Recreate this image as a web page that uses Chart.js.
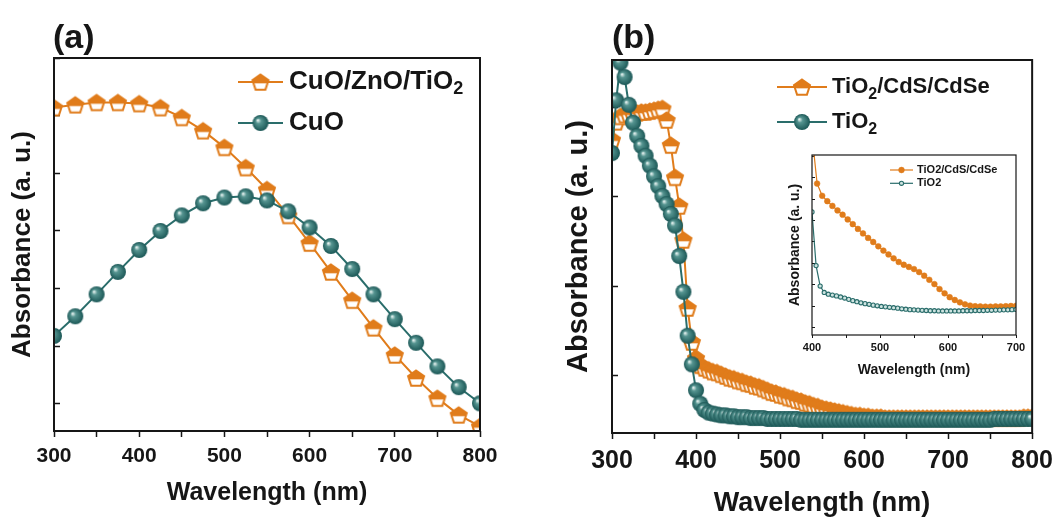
<!DOCTYPE html>
<html>
<head>
<meta charset="utf-8">
<script src="https://cdn.jsdelivr.net/npm/chart.js@4.4.0/dist/chart.umd.min.js"></script>
<style>
  html, body { margin: 0; padding: 0; background: #fff; }
  #wrap { position: relative; width: 1060px; height: 517px; overflow: hidden; }
  #wrap canvas { position: absolute; }
  .tag { position: absolute; font: bold 34px "Liberation Sans", Arial, sans-serif; line-height: 34px; color: #161616; }
</style>
</head>
<body>
<div id="wrap">
  <canvas id="chartA" width="530" height="517" style="left:0;top:0"></canvas>
  <canvas id="chartB" width="530" height="517" style="left:530px;top:0"></canvas>
  <canvas id="chartInset" width="260" height="245" style="left:770px;top:140px"></canvas>
  <div class="tag" style="left:53px;top:19px">(a)</div>
  <div class="tag" style="left:612px;top:19px">(b)</div>
</div>
<script>
// ---- panel (a): CuO vs CuO/ZnO/TiO2 ----
var wlA = [300, 325, 350, 375, 400, 425, 450, 475, 500, 525, 550, 575, 600, 625, 650, 675, 700, 725, 750, 775, 800];
var absCuoZnoTio2 = [5.14, 5.19, 5.23, 5.23, 5.21, 5.14, 4.97, 4.74, 4.45, 4.10, 3.72,
                     3.27, 2.79, 2.29, 1.80, 1.32, 0.85, 0.45, 0.10, -0.19, -0.39];
var absCuo = [1.18, 1.52, 1.90, 2.29, 2.67, 3.00, 3.27, 3.48, 3.58, 3.60, 3.53,
              3.34, 3.06, 2.74, 2.34, 1.90, 1.47, 1.06, 0.65, 0.29, 0.01];

// ---- panel (b): TiO2 vs TiO2/CdS/CdSe, 5 nm steps ----
var wlB = [];
for (var w = 300; w <= 800; w += 5) wlB.push(w);
var absTio2CdsCdse = [
  2.64, 2.84, 2.90, 2.92, 2.93, 2.93, 2.94, 2.95, 2.95, 2.96,
  2.97, 2.98, 2.99, 2.86, 2.58, 2.22, 1.90, 1.52, 0.76, 0.38,
  0.20, 0.12, 0.09, 0.07, 0.05, 0.04, 0.02, 0.00, -0.02, -0.03,
  -0.05, -0.06, -0.08, -0.09, -0.11, -0.12, -0.14, -0.16, -0.18, -0.19,
  -0.21, -0.22, -0.24, -0.25, -0.27, -0.28, -0.30, -0.31, -0.33, -0.34,
  -0.36, -0.37, -0.38, -0.39, -0.40, -0.41, -0.42, -0.43, -0.44, -0.44,
  -0.45, -0.45, -0.46, -0.46, -0.46, -0.47, -0.47, -0.47, -0.47, -0.47,
  -0.47, -0.47, -0.47, -0.47, -0.47, -0.47, -0.47, -0.47, -0.47, -0.47,
  -0.47, -0.47, -0.47, -0.47, -0.47, -0.47, -0.47, -0.47, -0.47, -0.47,
  -0.47, -0.47, -0.47, -0.47, -0.47, -0.47, -0.47, -0.47, -0.46, -0.46,
  -0.46];
var absTio2 = [
  2.49, 3.08, 3.50, 3.34, 3.03, 2.83, 2.68, 2.57, 2.46, 2.35,
  2.23, 2.12, 2.01, 1.92, 1.81, 1.68, 1.34, 0.94, 0.45, 0.13,
  -0.16, -0.31, -0.38, -0.41, -0.42, -0.43, -0.44, -0.44, -0.45, -0.45,
  -0.46, -0.46, -0.46, -0.47, -0.47, -0.47, -0.47, -0.48, -0.48, -0.48,
  -0.48, -0.48, -0.48, -0.48, -0.48, -0.49, -0.49, -0.49, -0.49, -0.49,
  -0.49, -0.49, -0.49, -0.49, -0.49, -0.49, -0.49, -0.49, -0.49, -0.49,
  -0.49, -0.49, -0.49, -0.49, -0.49, -0.49, -0.49, -0.49, -0.49, -0.49,
  -0.49, -0.49, -0.49, -0.49, -0.49, -0.49, -0.49, -0.49, -0.49, -0.49,
  -0.49, -0.49, -0.49, -0.49, -0.49, -0.49, -0.49, -0.49, -0.49, -0.49,
  -0.49, -0.48, -0.48, -0.48, -0.48, -0.48, -0.48, -0.48, -0.48, -0.48,
  -0.48];

// ---- inset of (b): 400-700 nm ----
var wlInsetCds = [];
for (w = 400; w <= 700; w += 7.5) wlInsetCds.push(w);
var insetTio2CdsCdse = [
  9.00, 6.72, 6.15, 5.90, 5.68, 5.47, 5.27, 5.05, 4.83, 4.61,
  4.40, 4.19, 4.00, 3.80, 3.60, 3.42, 3.24, 3.07, 2.94, 2.84,
  2.74, 2.60, 2.43, 2.24, 2.04, 1.81, 1.61, 1.43, 1.30, 1.19,
  1.10, 1.04, 1.01, 1.00, 0.99, 0.99, 1.00, 1.00, 1.01, 1.02,
  1.03];
var wlInsetTio2 = [];
for (w = 400; w <= 700; w += 6) wlInsetTio2.push(w);
var insetTio2 = [
  5.40, 2.90, 1.95, 1.65, 1.57, 1.53, 1.49, 1.44, 1.39, 1.33,
  1.27, 1.22, 1.17, 1.13, 1.10, 1.06, 1.03, 1.00, 0.98, 0.96,
  0.94, 0.92, 0.89, 0.87, 0.85, 0.84, 0.83, 0.82, 0.81, 0.80,
  0.80, 0.79, 0.79, 0.79, 0.79, 0.79, 0.79, 0.80, 0.80, 0.80,
  0.81, 0.81, 0.81, 0.82, 0.82, 0.83, 0.83, 0.84, 0.84, 0.85,
  0.86];

var labelsMain = [300, 400, 500, 600, 700, 800];
var labelsInset = [400, 500, 600, 700];

var ORANGE = '#e07c1b';
var TEAL = '#2a6d6b';
var INK = '#161616';
var FONT = "'Liberation Sans', Arial, Helvetica, sans-serif";

function zip(xs, ys) {
  return xs.map(function (x, i) { return { x: x, y: ys[i] }; });
}

function bold(size, lh) {
  return { family: FONT, size: size, weight: 'bold', lineHeight: lh || 1.2 };
}

// pentagon marker: filled roof, hollow bottom
function pentagon(r) {
  var c = document.createElement('canvas');
  var size = Math.ceil(2 * r + 3);
  c.width = c.height = size;
  var g = c.getContext('2d');
  var cx = size / 2, cy = size / 2 + r * 0.1;
  g.beginPath();
  for (var k = 0; k < 5; k++) {
    var a = -Math.PI / 2 + k * 2 * Math.PI / 5;
    if (k) g.lineTo(cx + r * Math.cos(a), cy + r * Math.sin(a));
    else g.moveTo(cx + r * Math.cos(a), cy + r * Math.sin(a));
  }
  g.closePath();
  g.fillStyle = '#fff';
  g.fill();
  g.save();
  g.clip();
  g.fillStyle = ORANGE;
  g.fillRect(0, 0, size, cy + 0.5);
  g.restore();
  g.lineWidth = 2;
  g.strokeStyle = ORANGE;
  g.stroke();
  return c;
}

// shaded ball marker
function sphere(d) {
  var c = document.createElement('canvas');
  c.width = c.height = d + 2;
  var g = c.getContext('2d');
  var r = d / 2, cx = c.width / 2, cy = c.height / 2;
  var grad = g.createRadialGradient(cx - r * 0.35, cy - r * 0.35, r * 0.05, cx, cy, r);
  grad.addColorStop(0, '#e6f2f0');
  grad.addColorStop(0.3, '#559490');
  grad.addColorStop(1, '#1b5756');
  g.beginPath();
  g.arc(cx, cy, r, 0, 2 * Math.PI);
  g.fillStyle = grad;
  g.fill();
  return c;
}

var framePlugin = {
  id: 'frame',
  afterDatasetsDraw: function (chart, args, o) {
    var a = chart.chartArea, ctx = chart.ctx;
    ctx.save();
    ctx.strokeStyle = INK;
    ctx.lineWidth = o.width;
    ctx.strokeRect(a.left, a.top, a.right - a.left, a.bottom - a.top);
    ctx.restore();
  }
};

// text with unicode subscript digits drawn smaller and lower
function richText(ctx, text, x, y, size, subSize, drop) {
  text.split(/([\u2080-\u2089]+)/).forEach(function (s, i) {
    if (!s) return;
    var sub = i % 2 === 1;
    if (sub) s = s.replace(/[\u2080-\u2089]/g, function (ch) {
      return String.fromCharCode(ch.charCodeAt(0) - 0x2080 + 48);
    });
    ctx.font = 'bold ' + (sub ? subSize : size) + 'px ' + FONT;
    ctx.fillText(s, x, sub ? y + drop : y);
    x += ctx.measureText(s).width;
  });
}

var keyPlugin = {
  id: 'key',
  afterDraw: function (chart, args, o) {
    var ctx = chart.ctx;
    ctx.save();
    chart.data.datasets.forEach(function (ds, i) {
      var y = o.y + i * o.gap, mx = (o.x0 + o.x1) / 2;
      ctx.strokeStyle = ds.borderColor;
      ctx.lineWidth = ds.borderWidth;
      ctx.beginPath();
      ctx.moveTo(o.x0, y);
      ctx.lineTo(o.x1, y);
      ctx.stroke();
      if (ds.pointStyle instanceof HTMLCanvasElement) {
        ctx.drawImage(ds.pointStyle, mx - ds.pointStyle.width / 2, y - ds.pointStyle.height / 2);
      } else {
        ctx.beginPath();
        ctx.arc(mx, y, ds.pointRadius, 0, 2 * Math.PI);
        ctx.fillStyle = ds.pointBackgroundColor;
        ctx.fill();
        ctx.lineWidth = ds.pointBorderWidth;
        ctx.strokeStyle = ds.pointBorderColor;
        ctx.stroke();
      }
      ctx.fillStyle = INK;
      ctx.textBaseline = 'middle';
      ctx.textAlign = 'left';
      richText(ctx, ds.label, o.tx, y, o.size, o.sub, o.drop);
    });
    ctx.restore();
  }
};

function panel(id, s) {
  return new Chart(document.getElementById(id), {
    type: 'line',
    data: { datasets: s.datasets },
    options: {
      responsive: false,
      animation: false,
      events: [],
      layout: { padding: s.padding },
      plugins: {
        legend: { display: false },
        tooltip: { enabled: false },
        frame: { width: s.frame },
        key: s.key
      },
      scales: {
        x: {
          type: 'linear', min: s.xMin, max: s.xMax,
          ticks: {
            stepSize: 50, autoSkip: false, maxRotation: 0,
            font: bold(s.tickSize), color: INK, padding: s.tickPad,
            callback: function (v) { return s.labels.indexOf(v) >= 0 ? String(v) : ''; }
          },
          grid: { drawOnChartArea: false, tickLength: s.tick, tickWidth: s.tickW, tickColor: INK },
          border: { display: false },
          title: { display: true, text: 'Wavelength (nm)', font: bold(s.xTitleSize, s.xTitleLh), color: INK,
                   padding: { top: 0, bottom: s.xTitlePad } },
          afterFit: function (sc) { sc.height = s.xHeight; }
        },
        y: {
          type: 'linear', min: s.yMin, max: s.yMax,
          ticks: { stepSize: 1, includeBounds: false, callback: function () { return ''; } },
          grid: { drawOnChartArea: false, tickLength: -s.tick, tickWidth: s.tickW, tickColor: INK },
          border: { display: false },
          title: { display: true, text: 'Absorbance (a. u.)', font: bold(s.yTitleSize), color: INK,
                   padding: { top: s.yTitlePad, bottom: 0 } },
          afterFit: function (sc) { sc.width = s.yWidth; }
        }
      }
    },
    plugins: [framePlugin, keyPlugin]
  });
}

panel('chartA', {
  datasets: [
    { label: 'CuO/ZnO/TiO\u2082', data: zip(wlA, absCuoZnoTio2), borderColor: ORANGE, borderWidth: 2,
      pointStyle: pentagon(8.4), pointRadius: 8, tension: 0, order: 1 },
    { label: 'CuO', data: zip(wlA, absCuo), borderColor: TEAL, borderWidth: 2,
      pointStyle: sphere(16), pointRadius: 8, tension: 0, order: 0 }
  ],
  padding: { top: 58, right: 50, left: 0, bottom: 0 },
  frame: 2,
  key: { x0: 238, x1: 283, tx: 289, y: 82, gap: 41, size: 26, sub: 18, drop: 7 },
  xMin: 300, xMax: 800, labels: labelsMain, tickSize: 21, tickPad: 7, tick: 6, tickW: 1.5,
  xTitleSize: 25, xTitleLh: 1.2, xTitlePad: 9, xHeight: 86,
  yMin: -0.47, yMax: 6, yTitleSize: 26, yTitlePad: 7.4, yWidth: 54
});

panel('chartB', {
  datasets: [
    { label: 'TiO\u2082/CdS/CdSe', data: zip(wlB, absTio2CdsCdse), borderColor: ORANGE, borderWidth: 2,
      pointStyle: pentagon(8.4), pointRadius: 8, tension: 0, order: 1 },
    { label: 'TiO\u2082', data: zip(wlB, absTio2), borderColor: TEAL, borderWidth: 2,
      pointStyle: sphere(16), pointRadius: 8, tension: 0, order: 0 }
  ],
  padding: { top: 60, right: 22, left: 0, bottom: 0 },
  frame: 2,
  key: { x0: 247, x1: 297, tx: 302, y: 87, gap: 35, size: 22, sub: 16, drop: 8 },
  xMin: 300, xMax: 800, labels: labelsMain, tickSize: 25, tickPad: 7, tick: 6, tickW: 1.5,
  xTitleSize: 27, xTitleLh: 1.0, xTitlePad: 0, xHeight: 84,
  yMin: -0.637, yMax: 3.53, yTitleSize: 29, yTitlePad: 32, yWidth: 82
});

panel('chartInset', {
  datasets: [
    { label: 'TiO2/CdS/CdSe', data: zip(wlInsetCds, insetTio2CdsCdse), borderColor: ORANGE, borderWidth: 1.2,
      pointStyle: 'circle', pointRadius: 2.9, pointBackgroundColor: ORANGE, pointBorderColor: ORANGE,
      pointBorderWidth: 0.5, tension: 0, order: 1 },
    { label: 'TiO2', data: zip(wlInsetTio2, insetTio2), borderColor: TEAL, borderWidth: 1.2,
      pointStyle: 'circle', pointRadius: 2.1, pointBackgroundColor: '#cfe4e1', pointBorderColor: TEAL,
      pointBorderWidth: 1.1, tension: 0, order: 0 }
  ],
  padding: { top: 15, right: 14, left: 0, bottom: 0 },
  frame: 1.2,
  key: { x0: 120, x1: 143, tx: 147, y: 30, gap: 13.3, size: 11, sub: 8, drop: 3 },
  xMin: 400, xMax: 700, labels: labelsInset, tickSize: 11, tickPad: 3.7, tick: 3, tickW: 1,
  xTitleSize: 14, xTitleLh: 1.2, xTitlePad: 6.6, xHeight: 50,
  yMin: -0.33, yMax: 8.05, yTitleSize: 14, yTitlePad: 16.6, yWidth: 42
});
</script>
</body>
</html>
